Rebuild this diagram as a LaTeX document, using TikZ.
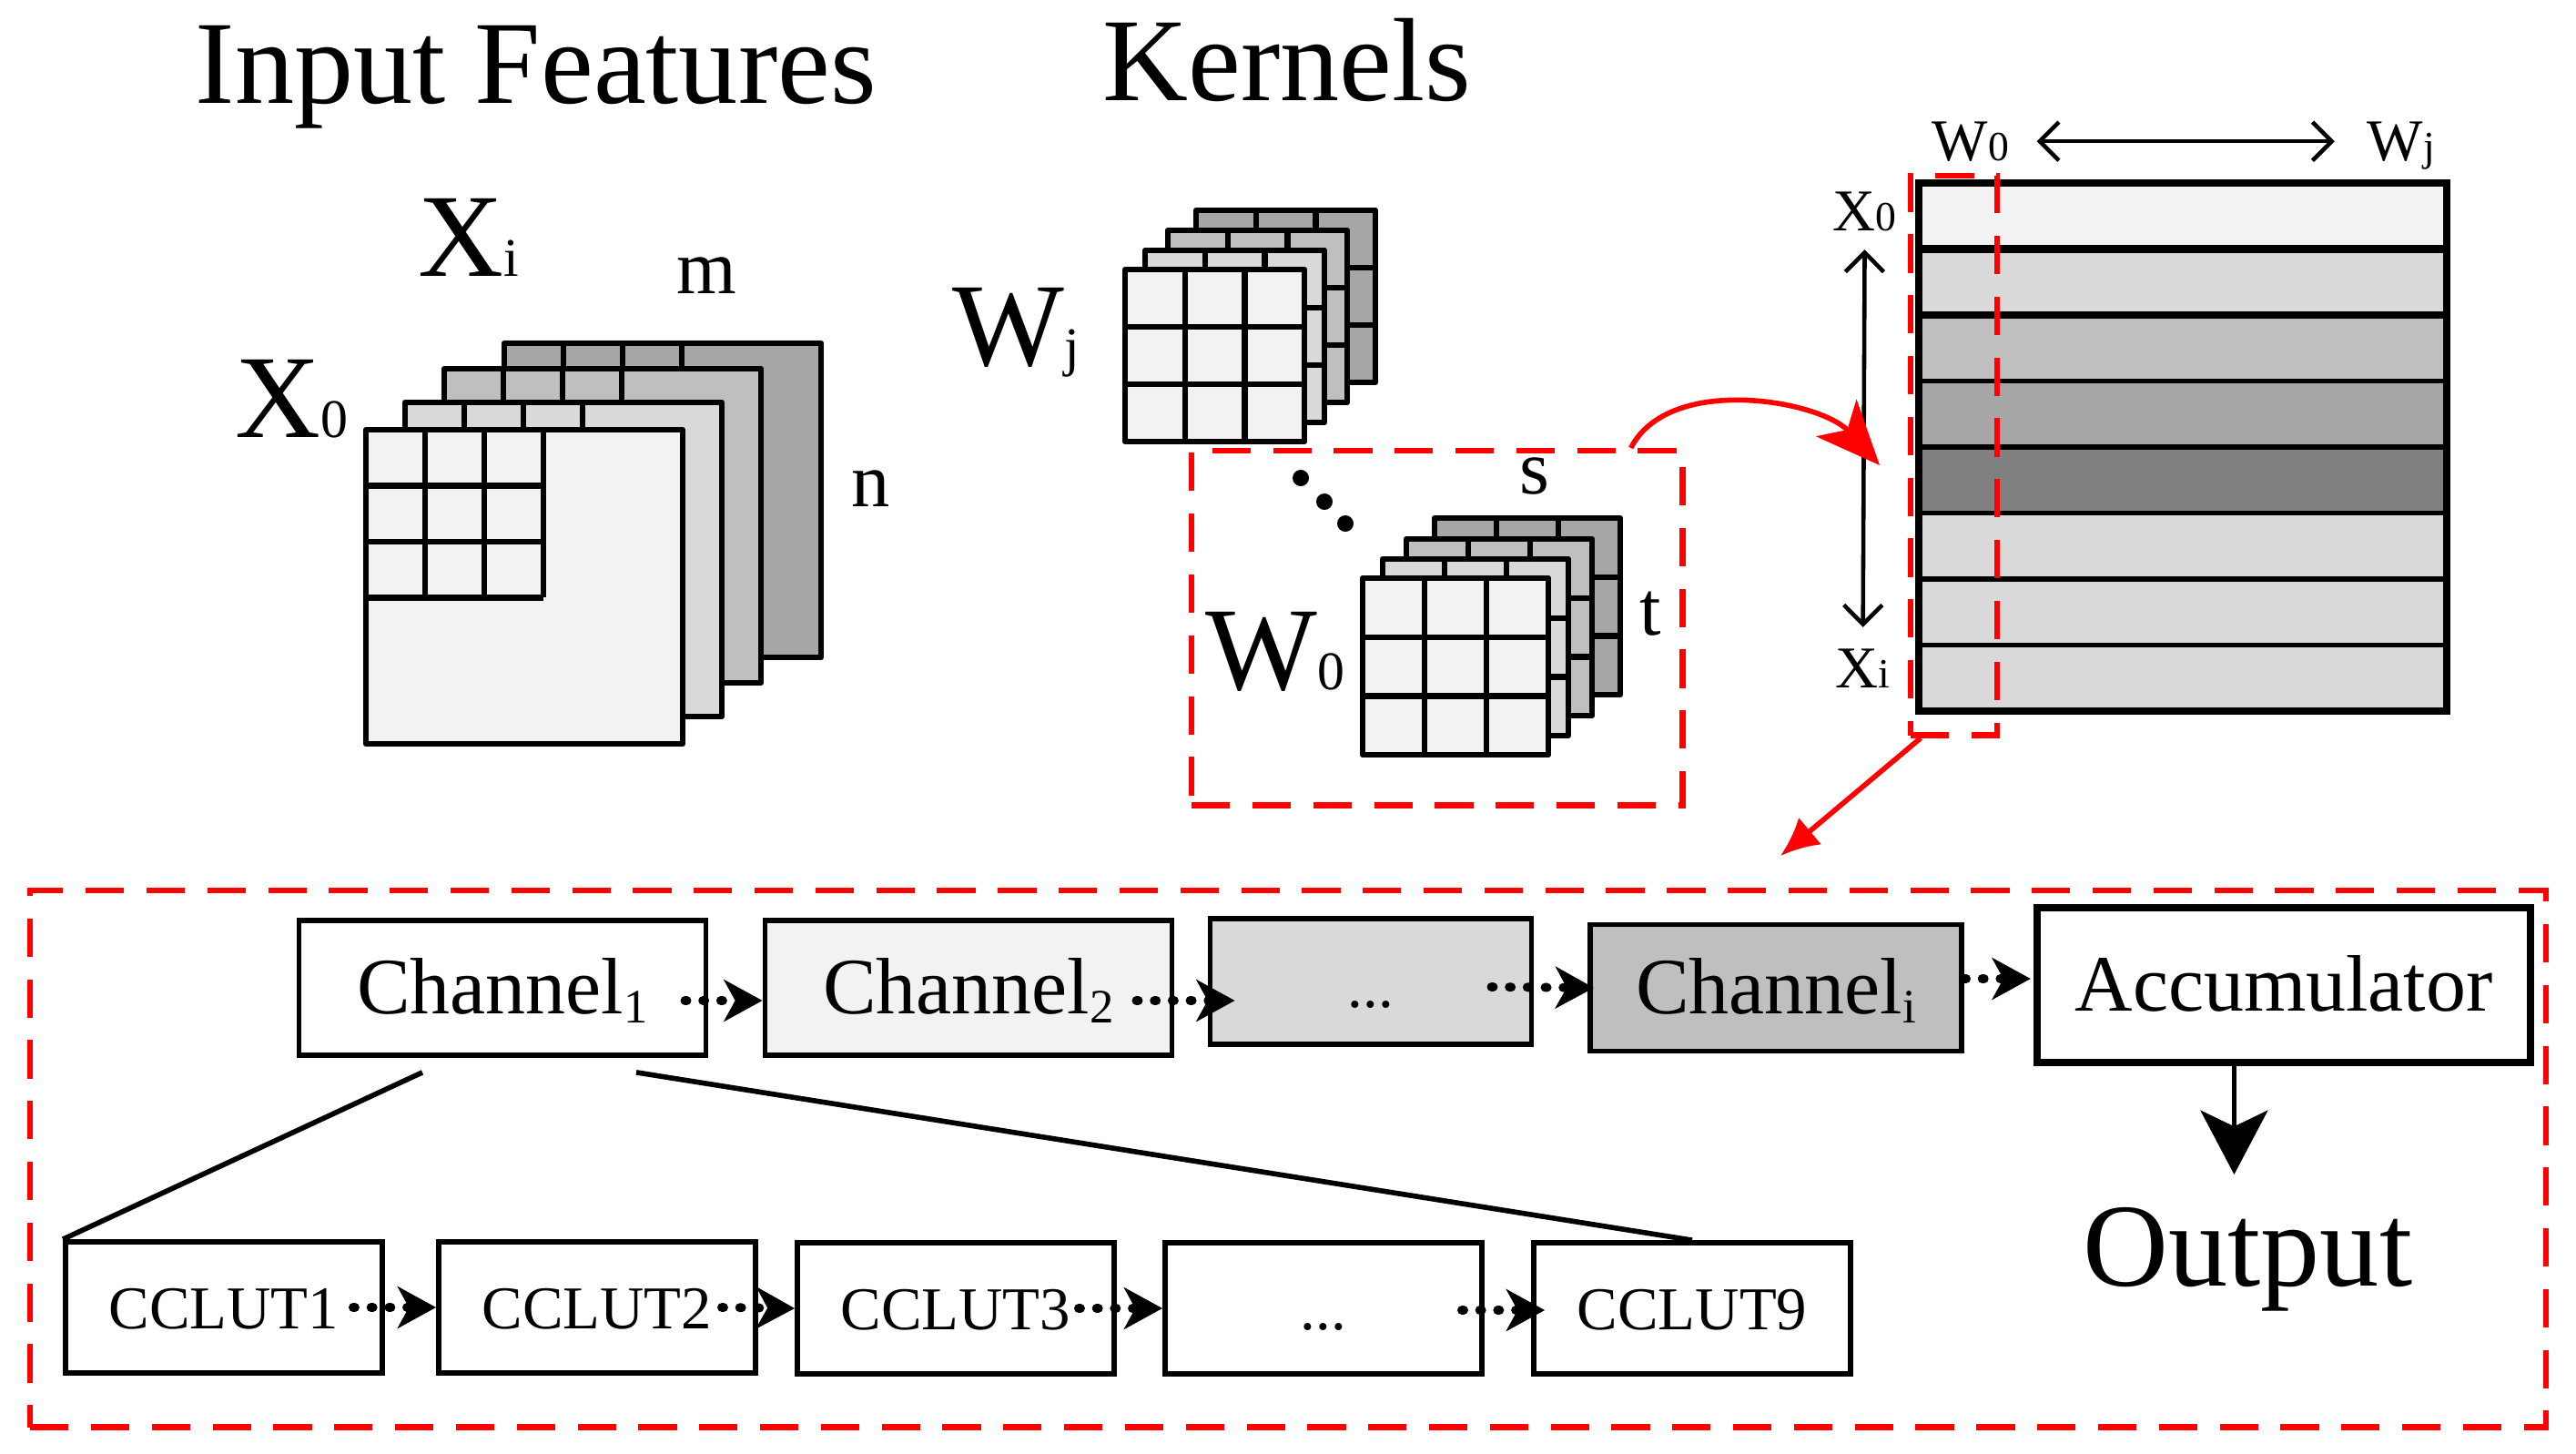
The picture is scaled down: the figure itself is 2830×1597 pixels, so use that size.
\documentclass[tikz,border=0pt]{standalone}
\usepackage{fontspec}
\setmainfont{Liberation Serif}
\usetikzlibrary{arrows.meta,calc}
\definecolor{g1}{HTML}{F2F2F2}
\definecolor{g2}{HTML}{D9D9D9}
\definecolor{g3}{HTML}{BFBFBF}
\definecolor{g4}{HTML}{A6A6A6}
\definecolor{g5}{HTML}{808080}
\newcommand{\bsub}[1]{{\fontsize{17}{17}\selectfont #1}}
\newcommand{\ssub}[1]{{\fontsize{13}{13}\selectfont #1}}
\newcommand{\csub}[1]{\raisebox{-3pt}{\fontsize{15}{15}\selectfont #1}}
\begin{document}
\begin{tikzpicture}[x=0.01cm, y=-0.01cm,
    big/.style={font=\fontsize{37}{40}\selectfont, inner sep=0pt},
    mid/.style={font=\fontsize{24}{26}\selectfont, inner sep=0pt},
    small/.style={font=\fontsize{18.5}{20}\selectfont, inner sep=0pt},
    layer/.style={line width=1.8pt, line join=round},
    reddash/.style={draw=red, line width=1.8pt, dash pattern=on 12pt off 7pt, inner sep=0pt, anchor=north west},
    chbox/.style={draw, line width=1.6pt, inner sep=0pt, minimum width=4.47cm, minimum height=1.48cm,
      font=\fontsize{25}{25}\selectfont, text height=18pt, text depth=2pt},
    lutbox/.style={draw, line width=1.6pt, inner sep=0pt, minimum width=3.48cm, minimum height=1.44cm,
      font=\fontsize{19}{19}\selectfont, text height=13.6pt, text depth=0pt},
    dotarrow/.style={line width=2.8pt, dash pattern=on 0.6pt off 5pt, line cap=round,
      -{Stealth[length=12pt,width=13pt,inset=3.5pt]}},
    twoway/.style={line width=1.3pt, {Straight Barb[length=6pt,width=12pt]}-{Straight Barb[length=6pt,width=12pt]}}]
  \useasboundingbox (0,0) rectangle (2830,1597);

  \node[big, anchor=base west] (inp) at (214,114) {Input Features};
  \node[big, anchor=base west] (ker) at (1211,111) {Kernels};

  \foreach \x/\y/\c in {554/377/g4, 488/405/g3, 445/442/g2, 402/472/g1} {
    \draw[layer, fill=\c] (\x,\y) rectangle ++(348,345);
    \foreach \i in {1,2,3} {
      \draw[layer] (\x+\i*65,\y) -- ++(0,184);
      \draw[layer] (\x,\y+\i*61.5) -- ++(195,0);
    }
  }
  \node[big, anchor=base west] (xi) at (459,304) {X\bsub{i}};
  \node[big, anchor=base west] (x0) at (258,480) {X\bsub{0}};
  \node[mid, anchor=base west] (m) at (743,323) {m};
  \node[mid, anchor=base west] (n) at (935,556) {n};

  \foreach \x/\y/\c in {1314/231/g4, 1283/253/g3, 1258/275/g2, 1236/296/g1} {
    \draw[layer, fill=\c] (\x,\y) rectangle ++(197,189);
    \foreach \i in {1,2} {
      \draw[layer] (\x+\i*65.7,\y) -- ++(0,189);
      \draw[layer] (\x,\y+\i*63) -- ++(197,0);
    }
  }
  \foreach \x/\y/\c in {1576/569/g4, 1545/592/g3, 1519/614/g2, 1497/635/g1} {
    \draw[layer, fill=\c] (\x,\y) rectangle ++(204,194);
    \foreach \i in {1,2} {
      \draw[layer] (\x+\i*68,\y) -- ++(0,194);
      \draw[layer] (\x,\y+\i*64.7) -- ++(204,0);
    }
  }
  \node[big, anchor=base west] (wj) at (1046,401) {W\bsub{j}};
  \node[big, anchor=base west] (w0) at (1324,757) {W\bsub{0}};
  \node[mid, anchor=base west] (s) at (1669,542) {s};
  \node[mid, anchor=base west] (t) at (1801,697) {t};
  \fill (1429,525) circle[radius=0.09cm];
  \fill (1455,551) circle[radius=0.09cm];
  \fill (1478,575) circle[radius=0.09cm];

  \foreach \c [count=\k from 0] in {g1,g2,g3,g4,g5,g2,g2,g2}
    \fill[fill=\c] (2108,201+\k*72.5) rectangle ++(580,72.5);
  \foreach \k in {3,...,7}
    \draw[line width=1.6pt] (2108,201+\k*72.5) -- ++(580,0);
  \foreach \k in {1,2}
    \draw[line width=2.5pt] (2108,201+\k*72.5) -- ++(580,0);
  \draw[line width=2.2pt] (2108,201) rectangle (2688,781);

  \node[small, anchor=base west] (w0s) at (2122,176) {W\ssub{0}};
  \node[small, anchor=base west] (wjs) at (2600,176) {W\ssub{j}};
  \node[small, anchor=base west] (x0s) at (2013,253) {X\ssub{0}};
  \node[small, anchor=base west] (xis) at (2016,755) {X\ssub{i}};
  \draw[twoway, shorten <=8.5pt, shorten >=10pt] (w0s.east) -- (w0s.east -| wjs.west);
  \draw[twoway, shorten <=5.7pt, shorten >=6.5pt] (x0s.south) -- (xis.north);

  \node[reddash, minimum width=0.95cm, minimum height=6.14cm] (sel) at (2096,190) {};
  \node[reddash, minimum width=5.39cm, minimum height=3.89cm] (kbox) at (1306,492) {};
  \node[reddash, minimum width=27.62cm, minimum height=5.89cm] (pipe) at (30,975) {};
  \coordinate (mtxin) at (2065,511);
  \coordinate (pipein) at (1956,940);
  \draw[red, line width=1.6pt, -{Stealth[length=20pt,width=17pt,inset=5pt]}]
    ($(kbox.north east)+(-60,0)$) .. controls (1834,410) and (2000,440) .. (mtxin);
  \draw[red, line width=1.6pt, -{Latex[length=12pt,width=11pt]}]
    ($(sel.south west)+(14,0)$) -- (pipein);

  \node[chbox] (ch1) at (552,1085) {Channel\csub{1}};
  \node[chbox, fill=g1] (ch2) at (1064,1085) {Channel\csub{2}};
  \node[chbox, fill=g2, minimum width=3.53cm, minimum height=1.38cm,
    font=\fontsize{19}{19}\selectfont] (chd) at (1506,1078) {...};
  \node[chbox, fill=g3, minimum width=4.08cm, minimum height=1.39cm] (chi) at (1951,1085) {Channel\csub{i}};
  \node[chbox, line width=2.3pt, minimum width=5.42cm, minimum height=1.70cm] (acc) at (2509,1082) {Accumulator};
  \node[big, anchor=base west] (out) at (2288,1412) {Output};

  \node[lutbox] (cc1) at (246,1436) {CCLUT1};
  \node[lutbox] (cc2) at (656,1436) {CCLUT2};
  \node[lutbox] (cc3) at (1050,1437) {CCLUT3};
  \node[lutbox] (ccd) at (1454,1437) {...};
  \node[lutbox] (cc9) at (1859,1437) {CCLUT9};

  \draw[dotarrow] ($(ch1.east)+(-26,14)$) -- ($(ch2.west)+(0,14)$);
  \draw[dotarrow] ($(ch2.east)+(-42,14)$) -- ($(chd.west)+(30,21)$);
  \draw[dotarrow] ($(chd.east)+(-47,6)$) -- ($(chi.west)+(7,0)$);
  \draw[dotarrow] ($(chi.east)+(0,-10)$) -- ($(acc.west)+(-3,-7)$);
  \draw[dotarrow] ($(cc1.east)+(-35,0)$) -- (cc2.west);
  \draw[dotarrow] ($(cc2.east)+(-40,0)$) -- (cc3.west);
  \draw[dotarrow] ($(cc3.east)+(-42,0)$) -- (ccd.west);
  \draw[dotarrow] ($(ccd.east)+(-25,2)$) -- ($(cc9.west)+(15,2)$);

  \draw[line width=1.6pt] ($(ch1.south)+(-88,16)$) -- (cc1.north west);
  \draw[line width=1.6pt] ($(ch1.south)+(147,16)$) -- (cc9.north);
  \draw[line width=1.6pt, -{Stealth[length=20pt,width=21pt,inset=5pt]}, shorten >=10pt]
    ($(acc.south -| out.north)+(-15,0)$) -- ($(out.north)+(-15,0)$);
\end{tikzpicture}
\end{document}
